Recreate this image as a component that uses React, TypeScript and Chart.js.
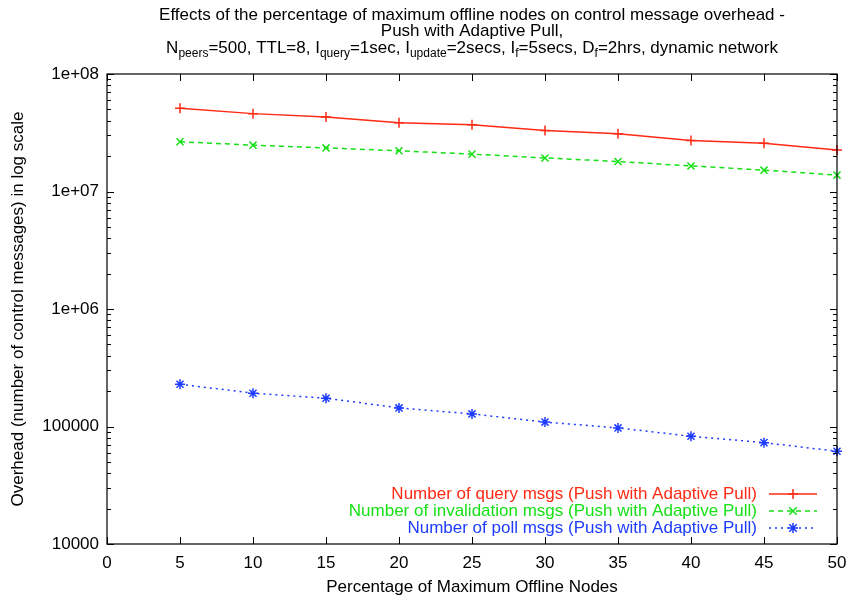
import React, { useEffect, useRef } from 'react';
import { Chart, registerables } from 'chart.js';

Chart.register(...registerables);

const xValues = [5, 10, 15, 20, 25, 30, 35, 40, 45, 50];
const queryMsgs = [5.1e7, 4.6e7, 4.3e7, 3.85e7, 3.7e7, 3.3e7, 3.1e7, 2.72e7, 2.57e7, 2.26e7];
const invalidationMsgs = [2.65e7, 2.48e7, 2.35e7, 2.22e7, 2.08e7, 1.93e7, 1.8e7, 1.65e7, 1.52e7, 1.38e7];
const pollMsgs = [2.29e5, 1.92e5, 1.74e5, 1.44e5, 1.28e5, 1.09e5, 9.73e4, 8.26e4, 7.29e4, 6.15e4];

const seriesLabels = [
  'Number of query msgs (Push with Adaptive Pull)',
  'Number of invalidation msgs (Push with Adaptive Pull)',
  'Number of poll msgs (Push with Adaptive Pull)',
];
const seriesColors = ['#ff2a14', '#16e016', '#1e3cff'];
const seriesDashes = [[], [5, 4], [2, 4]];
const seriesPoints = ['cross', 'crossRot', 'star'];

const xTickValues = [0, 5, 10, 15, 20, 25, 30, 35, 40, 45, 50];
const yMajorTicks = [1e4, 1e5, 1e6, 1e7, 1e8];
const yTickLabels = ['10000', '100000', '1e+06', '1e+07', '1e+08'];

const titleLine1 = 'Effects of the percentage of maximum offline nodes on control message overhead -';
const titleLine2 = 'Push with Adaptive Pull,';
// [text, isSubscript]
const titleLine3: [string, boolean][] = [
  ['N', false], ['peers', true], ['=500, TTL=8, I', false], ['query', true],
  ['=1sec, I', false], ['update', true], ['=2secs, I', false], ['f', true],
  ['=5secs, D', false], ['f', true], ['=2hrs, dynamic network', false],
];
const xAxisTitle = 'Percentage of Maximum Offline Nodes';
const yAxisTitle = 'Overhead (number of control messages) in log scale';

const FONT = '"Liberation Sans", Arial, Helvetica, sans-serif';
const FS = 17;
const SUB = 12;

function drawMarker(ctx: CanvasRenderingContext2D, style: string, x: number, y: number, r: number) {
  ctx.beginPath();
  if (style === 'cross' || style === 'star') {
    ctx.moveTo(x - r, y); ctx.lineTo(x + r, y);
    ctx.moveTo(x, y - r); ctx.lineTo(x, y + r);
  }
  if (style === 'crossRot' || style === 'star') {
    const d = r * 0.75;
    ctx.moveTo(x - d, y - d); ctx.lineTo(x + d, y + d);
    ctx.moveTo(x - d, y + d); ctx.lineTo(x + d, y - d);
  }
  ctx.stroke();
}

const decorPlugin = {
  id: 'decor',
  afterDraw(chart: any) {
    const ctx: CanvasRenderingContext2D = chart.ctx;
    const { left, right, top, bottom } = chart.chartArea;
    const xs = chart.scales.x;
    const ys = chart.scales.y;
    ctx.save();
    // border
    ctx.strokeStyle = '#000';
    ctx.lineWidth = 1.2;
    ctx.setLineDash([]);
    ctx.strokeRect(left, top, right - left, bottom - top);
    // x ticks (bottom & top, inward)
    ctx.lineWidth = 1;
    ctx.beginPath();
    xTickValues.forEach((v) => {
      const px = Math.round(xs.getPixelForValue(v)) + 0.5;
      ctx.moveTo(px, bottom); ctx.lineTo(px, bottom - 7);
      ctx.moveTo(px, top); ctx.lineTo(px, top + 7);
    });
    // y ticks
    ys.ticks.forEach((t: any) => {
      const py = Math.round(ys.getPixelForValue(t.value)) + 0.5;
      const major = yMajorTicks.some((m) => Math.abs(Math.log10(m) - Math.log10(t.value)) < 1e-9);
      const len = major ? 7 : 4;
      ctx.moveTo(left, py); ctx.lineTo(left + len, py);
      ctx.moveTo(right, py); ctx.lineTo(right - len, py);
    });
    ctx.stroke();

    // title
    const cx = (left + right) / 2;
    ctx.fillStyle = '#000';
    ctx.textBaseline = 'alphabetic';
    ctx.textAlign = 'center';
    ctx.font = `${FS}px ${FONT}`;
    ctx.fillText(titleLine1, cx, 20);
    ctx.fillText(titleLine2, cx, 36);
    let total = 0;
    titleLine3.forEach(([s, sub]) => {
      ctx.font = `${sub ? SUB : FS}px ${FONT}`;
      total += ctx.measureText(s).width;
    });
    let tx = cx - total / 2;
    ctx.textAlign = 'left';
    titleLine3.forEach(([s, sub]) => {
      ctx.font = `${sub ? SUB : FS}px ${FONT}`;
      ctx.fillText(s, tx, sub ? 57 : 53);
      tx += ctx.measureText(s).width;
    });

    // axis titles
    ctx.font = `${FS}px ${FONT}`;
    ctx.textAlign = 'center';
    ctx.textBaseline = 'middle';
    ctx.fillText(xAxisTitle, cx, 587);
    ctx.save();
    ctx.translate(18, (top + bottom) / 2);
    ctx.rotate(-Math.PI / 2);
    ctx.fillText(yAxisTitle, 0, 0);
    ctx.restore();

    // legend
    seriesLabels.forEach((label, i) => {
      const ly = 494 + i * 17;
      ctx.font = `${FS}px ${FONT}`;
      ctx.textAlign = 'right';
      ctx.textBaseline = 'middle';
      ctx.fillStyle = seriesColors[i];
      ctx.fillText(label, 757, ly);
      ctx.strokeStyle = seriesColors[i];
      ctx.lineWidth = 1.5;
      ctx.setLineDash(seriesDashes[i]);
      ctx.beginPath();
      ctx.moveTo(769, ly); ctx.lineTo(817, ly);
      ctx.stroke();
      ctx.setLineDash([]);
      drawMarker(ctx, seriesPoints[i], 793, ly, 5);
    });
    ctx.restore();
  },
};

export default function App() {
  const ref = useRef<HTMLCanvasElement>(null);
  useEffect(() => {
    if (!ref.current) return;
    const mk = (data: number[], i: number) => ({
      label: seriesLabels[i],
      data: xValues.map((x, k) => ({ x, y: data[k] })),
      borderColor: seriesColors[i],
      backgroundColor: seriesColors[i],
      borderWidth: 1.5,
      borderDash: seriesDashes[i],
      pointStyle: seriesPoints[i],
      pointRadius: 5,
      pointBorderWidth: 1.5,
      pointHoverRadius: 5,
      tension: 0,
      fill: false,
      clip: false as any,
    });
    const chart = new Chart(ref.current, {
      type: 'line',
      data: {
        datasets: [mk(queryMsgs, 0), mk(invalidationMsgs, 1), mk(pollMsgs, 2)],
      },
      options: {
        animation: false,
        responsive: false,
        devicePixelRatio: 1,
        layout: { padding: { left: 0, right: 10, top: 74, bottom: 0 } },
        plugins: { legend: { display: false }, title: { display: false }, tooltip: { enabled: false } },
        scales: {
          x: {
            type: 'linear',
            min: 0,
            max: 50,
            afterBuildTicks: (s: any) => { s.ticks = xTickValues.map((v) => ({ value: v })); },
            afterFit: (s: any) => { s.height = 52; s.paddingLeft = 0; s.paddingRight = 0; },
            grid: { display: false },
            border: { display: false },
            ticks: { color: '#000', font: { family: FONT, size: FS }, padding: 1.5, autoSkip: false, maxRotation: 0 },
          },
          y: {
            type: 'logarithmic',
            min: 1e4,
            max: 1e8,
            afterBuildTicks: (s: any) => {
              const t: any[] = [];
              for (let e = 4; e < 8; e++) for (let m = 1; m < 10; m++) t.push({ value: m * Math.pow(10, e) });
              t.push({ value: 1e8 });
              s.ticks = t;
            },
            afterFit: (s: any) => { s.width = 107; s.paddingTop = 0; s.paddingBottom = 0; },
            grid: { display: false },
            border: { display: false },
            ticks: {
              color: '#000',
              font: { family: FONT, size: FS },
              padding: 0,
              autoSkip: false,
              callback: (v: any) => {
                const idx = yMajorTicks.findIndex((m) => Math.abs(Math.log10(m) - Math.log10(Number(v))) < 1e-9);
                return idx >= 0 ? yTickLabels[idx] : '';
              },
            },
          },
        },
      },
      plugins: [decorPlugin],
    });
    return () => chart.destroy();
  }, []);
  return (
    <div style={{ position: 'fixed', left: 0, top: 0, width: 847, height: 596, background: '#fff' }}>
      <canvas ref={ref} width={847} height={596} style={{ display: 'block' }} />
    </div>
  );
}
